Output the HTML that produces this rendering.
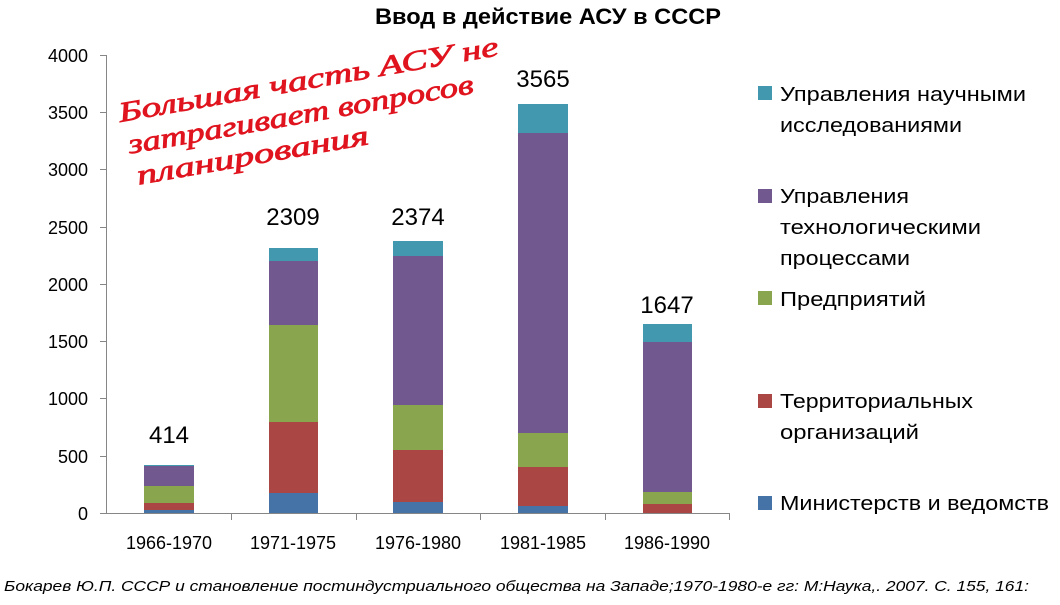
<!DOCTYPE html>
<html><head><meta charset="utf-8"><style>
html,body{margin:0;padding:0;background:#fff;}
svg{display:block;font-family:"Liberation Sans","DejaVu Sans",sans-serif;}
</style></head><body>
<svg width="1060" height="605" viewBox="0 0 1060 605" xmlns="http://www.w3.org/2000/svg">
<text x="548" y="24" font-size="22" font-weight="bold" text-anchor="middle" fill="#000" textLength="346" lengthAdjust="spacingAndGlyphs">Ввод в действие АСУ в СССР</text>
<!-- axes -->
<g stroke="#868686" stroke-width="1">
<line x1="106.5" y1="55" x2="106.5" y2="513"/>
<line x1="106" y1="513.5" x2="730" y2="513.5"/>
<line x1="100" y1="55.5" x2="106" y2="55.5"/>
<line x1="100" y1="112.5" x2="106" y2="112.5"/>
<line x1="100" y1="169.5" x2="106" y2="169.5"/>
<line x1="100" y1="227.5" x2="106" y2="227.5"/>
<line x1="100" y1="284.5" x2="106" y2="284.5"/>
<line x1="100" y1="341.5" x2="106" y2="341.5"/>
<line x1="100" y1="398.5" x2="106" y2="398.5"/>
<line x1="100" y1="456.5" x2="106" y2="456.5"/>
<line x1="100" y1="513.5" x2="106" y2="513.5"/>
<line x1="231.5" y1="513" x2="231.5" y2="520"/>
<line x1="356.5" y1="513" x2="356.5" y2="520"/>
<line x1="480.5" y1="513" x2="480.5" y2="520"/>
<line x1="605.5" y1="513" x2="605.5" y2="520"/>
<line x1="729.5" y1="513" x2="729.5" y2="520"/>
</g>
<g font-size="18" text-anchor="end" fill="#000">
<text x="88" y="62">4000</text><text x="88" y="119">3500</text><text x="88" y="176">3000</text>
<text x="88" y="234">2500</text><text x="88" y="291">2000</text><text x="88" y="348">1500</text>
<text x="88" y="405">1000</text><text x="88" y="463">500</text><text x="88" y="520">0</text>
</g>
<g font-size="18" text-anchor="middle" fill="#000">
<text x="169" y="549">1966-1970</text><text x="293" y="549">1971-1975</text><text x="418" y="549">1976-1980</text>
<text x="543" y="549">1981-1985</text><text x="667" y="549">1986-1990</text>
</g>
<!-- bars -->
<g>
<rect x="144" y="510" width="50" height="3" fill="#4572a7"/>
<rect x="144" y="503" width="50" height="7" fill="#aa4643"/>
<rect x="144" y="486" width="50" height="17" fill="#89a54e"/>
<rect x="144" y="466" width="50" height="20" fill="#71588f"/>
<rect x="144" y="465" width="50" height="1" fill="#4198af"/>

<rect x="269" y="493" width="49" height="20" fill="#4572a7"/>
<rect x="269" y="422" width="49" height="71" fill="#aa4643"/>
<rect x="269" y="325" width="49" height="97" fill="#89a54e"/>
<rect x="269" y="261" width="49" height="64" fill="#71588f"/>
<rect x="269" y="248" width="49" height="13" fill="#4198af"/>

<rect x="393" y="502" width="50" height="11" fill="#4572a7"/>
<rect x="393" y="450" width="50" height="52" fill="#aa4643"/>
<rect x="393" y="405" width="50" height="45" fill="#89a54e"/>
<rect x="393" y="256" width="50" height="149" fill="#71588f"/>
<rect x="393" y="241" width="50" height="15" fill="#4198af"/>

<rect x="518" y="506" width="50" height="7" fill="#4572a7"/>
<rect x="518" y="467" width="50" height="39" fill="#aa4643"/>
<rect x="518" y="433" width="50" height="34" fill="#89a54e"/>
<rect x="518" y="133" width="50" height="300" fill="#71588f"/>
<rect x="518" y="104" width="50" height="29" fill="#4198af"/>

<rect x="643" y="504" width="49" height="9" fill="#aa4643"/>
<rect x="643" y="492" width="49" height="12" fill="#89a54e"/>
<rect x="643" y="342" width="49" height="150" fill="#71588f"/>
<rect x="643" y="324" width="49" height="18" fill="#4198af"/>
</g>
<g font-size="24" text-anchor="middle" fill="#000">
<text x="169" y="443">414</text><text x="293" y="225">2309</text><text x="418" y="225">2374</text>
<text x="543" y="87">3565</text><text x="667" y="313">1647</text>
</g>
<!-- legend -->
<rect x="758" y="86" width="14" height="14" fill="#4198af"/>
<rect x="758" y="189" width="14" height="14" fill="#71588f"/>
<rect x="758" y="291" width="14" height="14" fill="#89a54e"/>
<rect x="758" y="394" width="14" height="14" fill="#aa4643"/>
<rect x="758" y="496" width="14" height="14" fill="#4572a7"/>
<g font-size="20" fill="#000">
<text x="780" y="101" textLength="246" lengthAdjust="spacingAndGlyphs">Управления научными</text>
<text x="780" y="132" textLength="182" lengthAdjust="spacingAndGlyphs">исследованиями</text>
<text x="780" y="203" textLength="129" lengthAdjust="spacingAndGlyphs">Управления</text>
<text x="780" y="234" textLength="201" lengthAdjust="spacingAndGlyphs">технологическими</text>
<text x="780" y="265" textLength="130" lengthAdjust="spacingAndGlyphs">процессами</text>
<text x="780" y="306" textLength="146" lengthAdjust="spacingAndGlyphs">Предприятий</text>
<text x="780" y="408" textLength="193" lengthAdjust="spacingAndGlyphs">Территориальных</text>
<text x="780" y="439" textLength="139" lengthAdjust="spacingAndGlyphs">организаций</text>
<text x="780" y="510" textLength="269" lengthAdjust="spacingAndGlyphs">Министерств и ведомств</text>
</g>
<!-- annotation -->
<g transform="rotate(-10 120 120)" font-size="28" font-style="italic" font-family="'Liberation Serif','DejaVu Serif',serif" fill="#e0141e" stroke="#e0141e" stroke-width="0.8">
<text x="120" y="122" textLength="385" lengthAdjust="spacingAndGlyphs">Большая часть АСУ не</text>
<text x="124" y="155" textLength="350" lengthAdjust="spacingAndGlyphs">затрагивает вопросов</text>
<text x="127" y="187" textLength="235" lengthAdjust="spacingAndGlyphs">планирования</text>
</g>
<text x="4" y="591" font-size="15" font-style="italic" fill="#000" textLength="1025" lengthAdjust="spacingAndGlyphs">Бокарев Ю.П. СССР  и становление постиндустриального общества на Западе;1970-1980-е гг: М:Наука,. 2007. С. 155, 161:</text>
</svg>
</body></html>
